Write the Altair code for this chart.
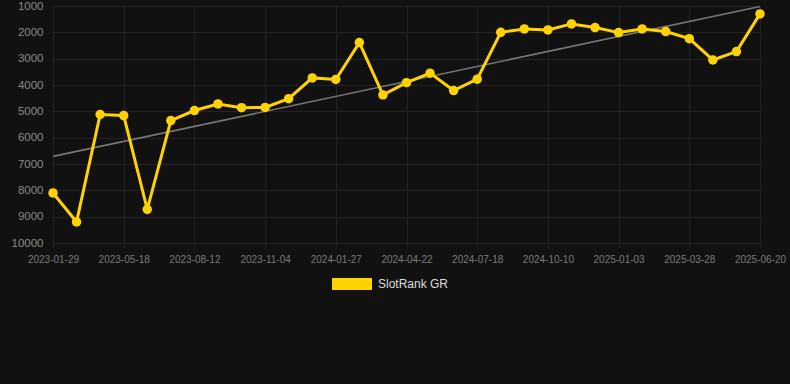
import altair as alt
import pandas as pd
import numpy as np

dates = [
    "2023-01-29", "2023-03-05", "2023-04-12",
    "2023-05-18", "2023-06-16", "2023-07-14",
    "2023-08-12", "2023-09-09", "2023-10-07",
    "2023-11-04", "2023-12-02", "2023-12-30",
    "2024-01-27", "2024-02-24", "2024-03-24",
    "2024-04-22", "2024-05-21", "2024-06-19",
    "2024-07-18", "2024-08-15", "2024-09-12",
    "2024-10-10", "2024-11-07", "2024-12-05",
    "2025-01-03", "2025-01-31", "2025-02-28",
    "2025-03-28", "2025-04-25", "2025-05-23",
    "2025-06-20",
]
ranks = [
    8100, 9200, 5120, 5160, 8720, 5350, 4970, 4720, 4860, 4850,
    4520, 3730, 3790, 2390, 4375, 3910, 3550, 4210, 3780, 2000,
    1870, 1910, 1680, 1820, 2010, 1870, 1970, 2240, 3050, 2730,
    1300,
]
tick_labels = dates[::3]
y_ticks = [1000, 2000, 3000, 4000, 5000, 6000, 7000, 8000, 9000, 10000]
series_name = "SlotRank GR"

df = pd.DataFrame({"date": dates, "rank": ranks, "series": series_name})

idx = np.arange(len(ranks))
slope, intercept = np.polyfit(idx, ranks, 1)
trend_df = pd.DataFrame({
    "date": [dates[0], dates[-1]],
    "trend": [intercept, intercept + slope * idx[-1]],
})

BG = "#111111"
GRID = "#232323"
GOLD = "#FFD200"

x_enc = alt.X(
    "date:O",
    sort=None,
    scale=alt.Scale(type="point", padding=0, domain=dates),
    axis=alt.Axis(
        values=tick_labels, title=None, labelAngle=0, labelColor="#7a7a7a",
        labelFontSize=10, labelFont="Liberation Sans", grid=True, gridColor=GRID,
        domain=False, tickColor=GRID, tickSize=5, labelPadding=6,
    ),
)
y_scale = alt.Scale(domain=[1000, 10000], reverse=True, nice=False, zero=False)
y_axis = alt.Axis(
    values=y_ticks, title=None, labelColor="#8a8a8a", labelFontSize=11.5,
    labelFont="Liberation Sans", grid=True, gridColor=GRID, domain=False,
    ticks=False, labelPadding=10, format="d",
)

trend = alt.Chart(trend_df).mark_line(color="#777777", strokeWidth=1.6).encode(
    x=x_enc,
    y=alt.Y("trend:Q", scale=y_scale, axis=y_axis),
)

color = alt.Color(
    "series:N",
    scale=alt.Scale(domain=[series_name], range=[GOLD]),
    legend=alt.Legend(
        title=None, orient="none", legendX=289, legendY=268, direction="horizontal",
        symbolType="M-2,-0.6L2,-0.6L2,0.6L-2,0.6Z", symbolSize=400,
        symbolFillColor=GOLD, symbolStrokeWidth=0, labelColor="#dddddd",
        labelFontSize=12, labelFont="Liberation Sans", labelOffset=16, padding=0,
    ),
)

line = alt.Chart(df).mark_line(strokeWidth=3).encode(
    x=x_enc, y=alt.Y("rank:Q", scale=y_scale, axis=y_axis), color=color,
)
pts = alt.Chart(df).mark_circle(size=90, opacity=1).encode(
    x=x_enc, y=alt.Y("rank:Q", scale=y_scale, axis=y_axis), color=color,
)

chart = alt.layer(trend, line, pts).properties(
    width=707, height=237, background=BG,
    autosize=alt.AutoSizeParams(type="none"),
    padding={"left": 53, "top": 6, "right": 30, "bottom": 141},
).configure_view(stroke=None)

chart.save("out.html", embed_options={"renderer": "svg", "actions": False})
